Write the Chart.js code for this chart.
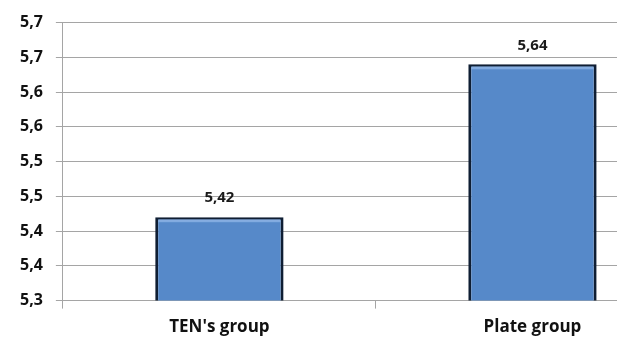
<!DOCTYPE html>
<html>
<head>
<meta charset="utf-8">
<script src="https://cdn.jsdelivr.net/npm/chart.js@4/dist/chart.umd.min.js"></script>
<style>
html, body { margin: 0; padding: 0; background: #fff; overflow: hidden; }
#wrap { width: 692px; height: 347px; position: relative; }
</style>
</head>
<body>
<div id="wrap"><canvas id="barChart"></canvas></div>
<script>
const categories = ["TEN's group", 'Plate group'];
const values = [5.42, 5.64];
const valueLabels = ['5,42', '5,64'];
const yTicks = [5.30, 5.35, 5.40, 5.45, 5.50, 5.55, 5.60, 5.65, 5.70];
const yTickLabels = ['5,3', '5,4', '5,4', '5,5', '5,5', '5,6', '5,6', '5,7', '5,7'];

const gridGray = '#a5a5a5';
const fontName = '"Open Sans", "DejaVu Sans", sans-serif';

// value labels above each bar, plus a light bevel at the top of the bar
const valueLabelPlugin = {
    id: 'valueLabels',
    afterDatasetsDraw(chart) {
        const ctx = chart.ctx;
        const meta = chart.getDatasetMeta(0);
        ctx.save();
        meta.data.forEach((bar) => {
            const left = bar.x - bar.width / 2 + 3;
            const w = bar.width - 6;
            ctx.fillStyle = 'rgba(140, 180, 230, 0.8)';
            ctx.fillRect(left, bar.y + 2, w, 3);
        });
        ctx.font = 'bold 15px ' + fontName;
        ctx.fillStyle = '#1a1a1a';
        ctx.textAlign = 'center';
        ctx.textBaseline = 'middle';
        meta.data.forEach((bar, i) => {
            ctx.fillText(valueLabels[i], bar.x, bar.y - 19);
        });
        ctx.restore();
    }
};

const ctx = document.getElementById('barChart').getContext('2d');
new Chart(ctx, {
    type: 'bar',
    data: {
        labels: categories,
        datasets: [{
            data: values,
            backgroundColor: '#5689c9',
            borderColor: '#0f1e33',
            borderWidth: 3,
            borderSkipped: 'bottom',
            categoryPercentage: 1,
            barPercentage: 0.41
        }]
    },
    options: {
        responsive: true,
        maintainAspectRatio: false,
        animation: false,
        layout: { padding: { left: 7, top: 11, right: 3, bottom: 2 } },
        plugins: {
            legend: { display: false },
            tooltip: { enabled: false }
        },
        scales: {
            x: {
                grid: {
                    display: true,
                    drawOnChartArea: false,
                    drawTicks: true,
                    tickLength: 8,
                    color: gridGray,
                    offset: true
                },
                border: { display: true, color: gridGray, width: 1 },
                ticks: {
                    padding: 8,
                    color: '#111',
                    font: { family: fontName, size: 17, weight: 'bold' }
                }
            },
            y: {
                min: 5.3,
                max: 5.7,
                afterBuildTicks(scale) {
                    scale.ticks = yTicks.map(v => ({ value: v }));
                },
                grid: {
                    color: gridGray,
                    tickLength: 7,
                    lineWidth: 1
                },
                border: { display: true, color: gridGray, width: 1 },
                ticks: {
                    padding: 13,
                    color: '#111',
                    font: { family: fontName, size: 16, weight: 'bold' },
                    callback: (v, i) => yTickLabels[i]
                }
            }
        }
    },
    plugins: [valueLabelPlugin]
});
</script>
</body>
</html>
